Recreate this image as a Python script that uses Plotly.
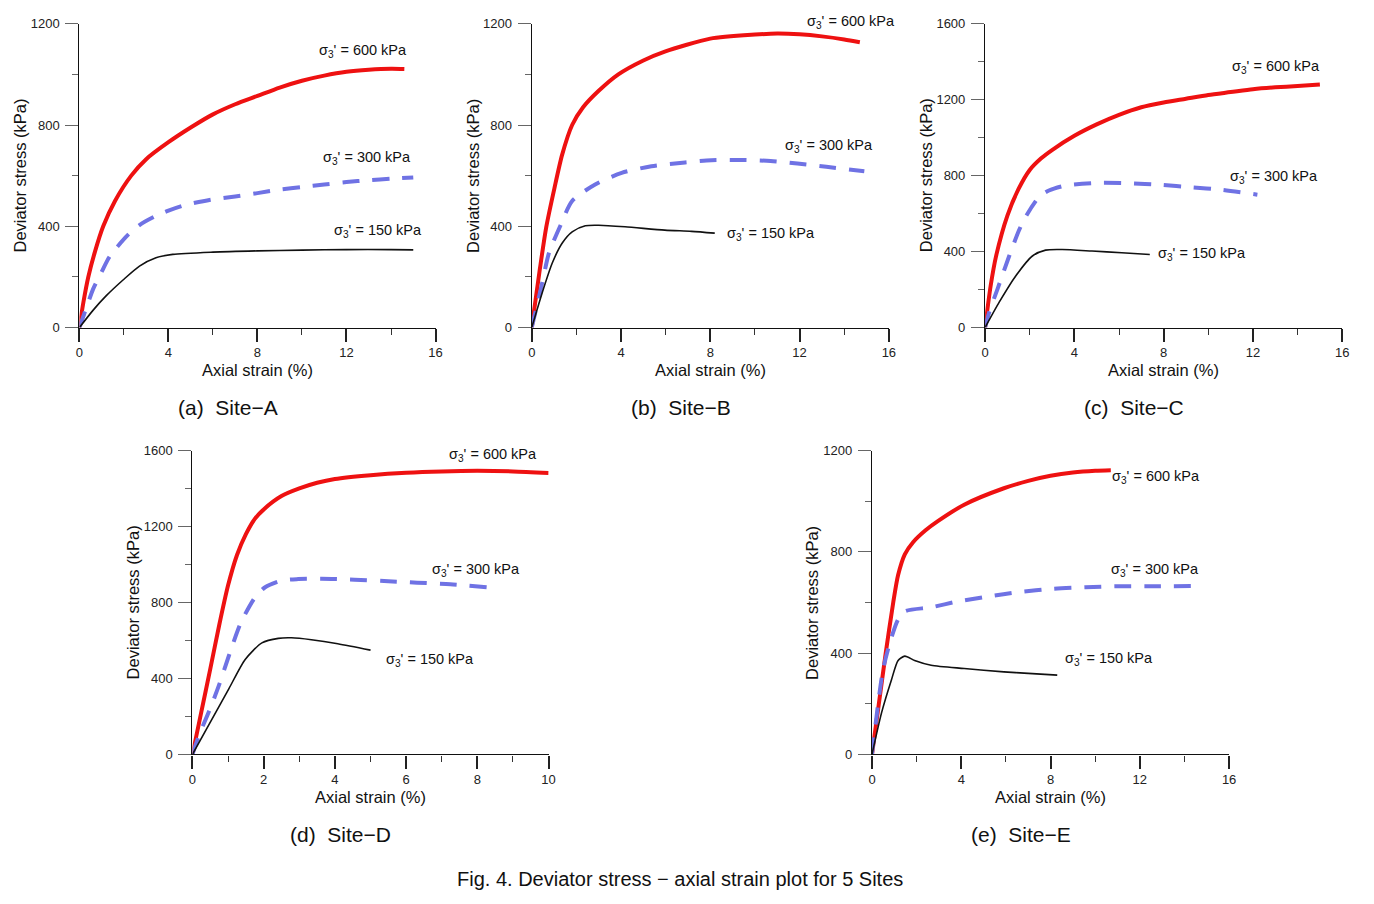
import plotly.graph_objects as go

W, H = 1374, 904

# ---- data (axial strain %, deviator stress kPa) ----
a_600_x = [0, 0.18, 0.4, 0.7, 1.07, 1.6, 2.33, 3, 4, 5, 6, 7, 8, 9, 10, 11, 12, 13, 14, 14.6]
a_600_y = [0, 100, 200, 300, 400, 500, 600, 665, 732, 790, 842, 882, 915, 948, 975, 995, 1010, 1018, 1022, 1021]
a_300_x = [0, 0.3, 0.62, 1, 1.37, 2.18, 2.7, 3.37, 4, 4.71, 5.9, 7, 8, 9, 10, 11, 12, 13, 14, 15]
a_300_y = [0, 75, 153, 220, 282, 366, 405, 438, 462, 483, 505, 518, 531, 545, 555, 565, 575, 582, 588, 593]
a_150_x = [0, 0.62, 1.22, 1.96, 2.7, 3.44, 4.19, 6, 8, 10, 12, 14, 15]
a_150_y = [0, 69, 127, 188, 243, 276, 289, 298, 303, 306, 308, 308, 307]

b_600_x = [0, 0.36, 0.65, 1.02, 1.36, 1.81, 2.3, 3, 3.88, 5, 5.96, 8, 10, 11, 12, 13, 14, 14.7]
b_600_y = [0, 229, 397, 552, 682, 800, 870, 935, 1000, 1055, 1090, 1141, 1157, 1161, 1158, 1150, 1138, 1127]
b_300_x = [0, 0.47, 0.77, 1.29, 1.81, 2.84, 4.03, 5.36, 6.87, 8.05, 9.39, 10.7, 11.9, 13.2, 14.9]
b_300_y = [0, 177, 294, 404, 500, 565, 611, 637, 652, 661, 662, 658, 648, 635, 617]
b_150_x = [0, 0.47, 0.92, 1.36, 1.81, 2.4, 3.0, 4.18, 5.96, 7.16, 8.2]
b_150_y = [0, 138, 255, 333, 378, 402, 404, 398, 385, 380, 373]

c_600_x = [0, 0.25, 0.5, 1, 1.5, 2, 2.5, 3, 4, 5, 6, 7, 8, 9, 10, 11, 12, 13, 14, 15]
c_600_y = [0, 220, 380, 590, 730, 830, 890, 935, 1010, 1070, 1120, 1160, 1185, 1205, 1225, 1240, 1255, 1265, 1272, 1280]
c_300_x = [0, 0.19, 0.56, 1.08, 1.53, 1.82, 2.42, 2.86, 3.6, 5.09, 6.42, 7.9, 9.24, 10.57, 12.2]
c_300_y = [0, 83, 204, 377, 515, 584, 688, 722, 748, 762, 760, 751, 739, 726, 700]
c_150_x = [0, 0.64, 1.38, 2.12, 2.71, 3.45, 4.79, 6.12, 7.38]
c_150_y = [0, 135, 273, 377, 408, 411, 403, 394, 385]

d_600_x = [0, 0.25, 0.5, 0.75, 1, 1.25, 1.5, 1.75, 2, 2.5, 3, 3.5, 4, 5, 6, 7, 8, 9, 10]
d_600_y = [0, 225, 450, 680, 890, 1050, 1160, 1240, 1290, 1360, 1400, 1430, 1450, 1470, 1483, 1490, 1493, 1490, 1482]
d_300_x = [0, 0.19, 0.46, 0.74, 1.02, 1.35, 1.76, 2.04, 2.5, 2.97, 3.62, 4.55, 5.38, 6.31, 7.24, 8.26]
d_300_y = [0, 104, 224, 362, 518, 690, 828, 880, 915, 923, 925, 920, 913, 904, 896, 880]
d_150_x = [0, 0.56, 1.02, 1.48, 1.95, 2.41, 2.78, 3.34, 4.08, 5.0]
d_150_y = [0, 190, 345, 500, 587, 611, 614, 604, 583, 549]

e_600_x = [0, 0.3, 0.61, 0.95, 1.17, 1.47, 1.84, 2.4, 2.95, 4.13, 5.91, 7, 8, 9, 10, 10.7]
e_600_y = [0, 195, 397, 599, 708, 790, 838, 885, 921, 986, 1051, 1080, 1100, 1113, 1120, 1122]
e_300_x = [0, 0.49, 0.85, 1.17, 1.47, 2.65, 3.84, 5.17, 6.6, 8.08, 9.56, 11.05, 12.5, 14.75]
e_300_y = [0, 332, 455, 533, 565, 581, 604, 623, 641, 654, 660, 664, 664, 665]
e_150_x = [0, 0.43, 0.87, 1.17, 1.47, 1.91, 2.65, 4.13, 5.91, 7, 8.3]
e_150_y = [0, 165, 294, 371, 388, 371, 352, 339, 326, 320, 313]

labels = ["σ<sub>3</sub>' = 600 kPa", "σ<sub>3</sub>' = 300 kPa", "σ<sub>3</sub>' = 150 kPa"]


def px(x):
    return x / W


def py(y):
    return 1 - y / H


# panel boxes in pixels: left, right, top, bottom, x range, y range, x ticks
panels = [
    dict(l=76, r=435, t=17, b=326, xmax=16, ymax=1200, dx=4, cap="(a)  Site−A",
         data=[(a_600_x, a_600_y), (a_300_x, a_300_y), (a_150_x, a_150_y)],
         lab=[(316, 45), (320, 154), (331, 228)]),
    dict(l=532, r=892, t=17, b=326, xmax=16, ymax=1200, dx=4, cap="(b)  Site−B",
         data=[(b_600_x, b_600_y), (b_300_x, b_300_y), (b_150_x, b_150_y)],
         lab=[(807, 15), (785, 141), (727, 231)]),
    dict(l=989, r=1349, t=17, b=326, xmax=16, ymax=1600, dx=4, cap="(c)  Site−C",
         data=[(c_600_x, c_600_y), (c_300_x, c_300_y), (c_150_x, c_150_y)],
         lab=[(1236, 61), (1234, 173), (1161, 251)]),
    dict(l=190, r=549, t=451, b=760, xmax=10, ymax=1600, dx=2, cap="(d)  Site−D",
         data=[(d_600_x, d_600_y), (d_300_x, d_300_y), (d_150_x, d_150_y)],
         lab=[(447, 456), (429, 573), (383, 664)]),
    dict(l=875, r=1235, t=451, b=760, xmax=16, ymax=1200, dx=4, cap="(e)  Site−E",
         data=[(e_600_x, e_600_y), (e_300_x, e_300_y), (e_150_x, e_150_y)],
         lab=[(1115, 478), (1114, 572), (1068, 663)]),
]

styles = [
    dict(color="#ee1111", width=4),
    dict(color="#6f72e4", width=4, dash="17px,13px"),
    dict(color="#111111", width=1.6),
]

fig = go.Figure()
annotations = []
tickfont = dict(family="Liberation Sans", size=13, color="#222")

for i, p in enumerate(panels):
    n = "" if i == 0 else str(i + 1)
    for (xs, ys), st in zip(p["data"], styles):
        fig.add_trace(go.Scatter(x=xs, y=ys, mode="lines", line=dict(shape="spline", smoothing=0.7, **st),
                                 xaxis="x" + n, yaxis="y" + n, showlegend=False, hoverinfo="skip"))
    fig.update_layout({
        "xaxis" + n: dict(domain=[px(p["l"]), px(p["r"])], range=[0, p["xmax"]], anchor="y" + n,
                          showgrid=False, zeroline=False, showline=True, linecolor="#111", linewidth=1.3,
                          ticks="outside", ticklen=13, tickwidth=1.6, tickcolor="#222", dtick=p["dx"], tick0=0,
                          minor=dict(ticks="outside", ticklen=6, tickwidth=1.3, tickcolor="#333", dtick=p["dx"] / 2),
                          tickfont=tickfont, fixedrange=True),
        "yaxis" + n: dict(domain=[py(p["b"]), py(p["t"])], range=[0, p["ymax"]], anchor="x" + n,
                          showgrid=False, zeroline=False, showline=True, linecolor="#111", linewidth=1.3,
                          ticks="outside", ticklen=13, tickwidth=1.3, tickcolor="#666", dtick=400, tick0=0,
                          minor=dict(ticks="outside", ticklen=6, tickwidth=1, tickcolor="#666", dtick=200),
                          tickfont=tickfont, ticklabelstandoff=3, fixedrange=True),
    })
    for (lx, ly), txt in zip(p["lab"], labels):
        annotations.append(dict(text=txt, x=px(lx), y=py(ly), xref="paper", yref="paper",
                                xanchor="left", yanchor="middle", showarrow=False,
                                font=dict(family="Liberation Sans", size=14.5, color="#111")))
    cx = (p["l"] + p["r"]) / 2
    annotations.append(dict(text="Axial strain (%)", x=px(cx), y=py(p["b"] + 43), xref="paper", yref="paper",
                            xanchor="center", yanchor="middle", showarrow=False,
                            font=dict(family="Liberation Sans", size=16.5, color="#111")))
    annotations.append(dict(text="Deviator stress (kPa)", x=px(p["l"] - 60), y=py((p["t"] + p["b"]) / 2),
                            xref="paper", yref="paper", textangle=-90, xanchor="center", yanchor="middle",
                            showarrow=False, font=dict(family="Liberation Sans", size=16.5, color="#111")))
    annotations.append(dict(text=p["cap"], x=px(cx - 30), y=py(p["b"] + 81), xref="paper", yref="paper",
                            xanchor="center", yanchor="middle", showarrow=False,
                            font=dict(family="Liberation Sans", size=21, color="#111")))

annotations.append(dict(text="Fig. 4. Deviator stress − axial strain plot for 5 Sites", x=px(681), y=py(887),
                        xref="paper", yref="paper", xanchor="center", yanchor="middle", showarrow=False,
                        font=dict(family="Liberation Sans", size=20, color="#111")))

fig.update_layout(width=W, height=H, margin=dict(l=0, r=0, t=0, b=0),
                  paper_bgcolor="white", plot_bgcolor="white", annotations=annotations)

fig.write_html("out.html", config={"displayModeBar": False},
               post_script="document.body.style.margin='0';document.documentElement.style.overflow='hidden';")
